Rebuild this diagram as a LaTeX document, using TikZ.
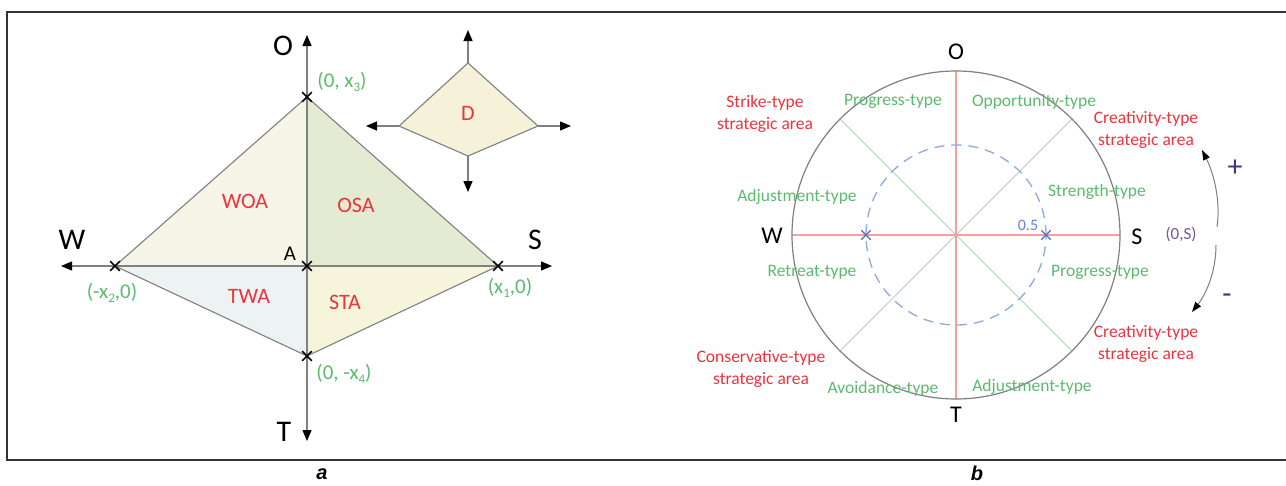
\documentclass[tikz,border=0pt]{standalone}
\usepackage{fontspec}
\setmainfont{Carlito}
\newfontfamily\capfont{Liberation Sans}
\usetikzlibrary{arrows.meta,shapes.misc}
\definecolor{redtxt}{RGB}{236,52,62}
\definecolor{greentxt}{RGB}{92,186,112}
\definecolor{greenline}{RGB}{172,216,172}
\definecolor{redline}{RGB}{245,160,160}
\definecolor{dashblue}{RGB}{140,170,222}
\definecolor{crossblue}{RGB}{80,110,190}
\definecolor{halfblue}{RGB}{100,135,205}
\definecolor{signpurple}{RGB}{70,50,130}
\definecolor{edgegray}{RGB}{128,128,128}
\definecolor{fillwoa}{RGB}{247,244,232}
\definecolor{fillosa}{RGB}{227,235,210}
\definecolor{filltwa}{RGB}{237,243,242}
\definecolor{fillsta}{RGB}{247,244,220}
\definecolor{filld}{RGB}{245,242,217}
\newcommand\subidx[1]{\raisebox{-0.35ex}{\fontsize{13}{13}\selectfont #1}}
\tikzset{
  tip/.style={-{Triangle[width=9pt,length=11pt,color=black]}},
  axisline/.style={draw=edgegray,line width=1.3pt},
  bigaxis/.style={font=\fontsize{30}{32}\selectfont,inner sep=0pt},
  midaxis/.style={font=\fontsize{24}{26}\selectfont,inner sep=0pt},
  area/.style={text=redtxt,font=\fontsize{22}{24}\selectfont,inner sep=0pt},
  coord/.style={text=greentxt,font=\fontsize{21}{23}\selectfont,inner sep=0pt},
  vtx/.style={cross out,draw=black,line width=1.7pt,minimum size=8pt,inner sep=0pt},
  bcross/.style={cross out,draw=crossblue,line width=1.3pt,minimum size=8pt,inner sep=0pt},
  kind/.style={text=greentxt,font=\fontsize{17.5}{19}\selectfont,inner sep=0pt},
  zone/.style={text=redtxt,font=\fontsize{17.5}{22}\selectfont,align=center,inner sep=0pt},
  panel/.style={font=\capfont\bfseries\itshape\fontsize{20}{22}\selectfont,inner sep=0pt},
  polyedge/.style={draw=edgegray,line width=1.1pt}
}
\begin{document}
\begin{tikzpicture}[x=1pt,y=-1pt]
\useasboundingbox[fill=white] (0,0) rectangle (1286,485);
% outer frame
\draw[line width=1.2pt,draw=black!80] (1286,12) -- (7,12) -- (7,460) -- (1286,460);

% ---------- panel a ----------
\coordinate (P3) at (307,97);
\coordinate (P2) at (115,266);
\coordinate (P0) at (307,266);
\coordinate (P1) at (498,266);
\coordinate (P4) at (307,356);
\fill[fillwoa] (P2) -- (P3) -- (P0) -- cycle;
\fill[fillosa] (P3) -- (P1) -- (P0) -- cycle;
\fill[filltwa] (P2) -- (P0) -- (P4) -- cycle;
\fill[fillsta] (P0) -- (P1) -- (P4) -- cycle;
\draw[polyedge] (P2) -- (P3) -- (P1) -- (P4) -- cycle;

\coordinate (Otip) at (307,35);
\coordinate (Ttip) at (307,441);
\coordinate (Wtip) at (61,266);
\coordinate (Stip) at (552,266);
\draw[axisline,tip] (P0) -- (Otip);
\draw[axisline,tip] (P0) -- (Ttip);
\draw[axisline,tip] (P0) -- (Wtip);
\draw[axisline,tip] (P0) -- (Stip);

\node[vtx] (x3) at (P3) {};
\node[vtx] (x2) at (P2) {};
\node[vtx] (A) at (P0) {};
\node[vtx] (x1) at (P1) {};
\node[vtx] (x4) at (P4) {};

\node[bigaxis] (lO) at (283,46) {O};
\node[bigaxis] (lT) at (284,432) {T};
\node[bigaxis] (lW) at (72,240) {W};
\node[bigaxis] (lS) at (535,240) {S};
\node[inner sep=0pt,font=\fontsize{21}{23}\selectfont] (lA) at (290,254) {A};

\node[coord] (c3) at (342,82) {(0, x\subidx{3})};
\node[coord] (c2) at (112,293) {(-x\subidx{2},0)};
\node[coord] (c1) at (510,288) {(x\subidx{1},0)};
\node[coord] (c4) at (344,374) {(0, -x\subidx{4})};

\node[area] (woa) at (245,201) {WOA};
\node[area] (osa) at (356,205) {OSA};
\node[area] (twa) at (249,296) {TWA};
\node[area] (sta) at (345,302) {STA};

% diamond D
\coordinate (Dt) at (468,63);
\coordinate (Dl) at (399,126);
\coordinate (Dr) at (538,126);
\coordinate (Db) at (468,156);
\draw[polyedge,fill=filld] (Dt) -- (Dr) -- (Db) -- (Dl) -- cycle;
\node[area] (D) at (468,113) {D};
\coordinate (Dtt) at (468,30);
\coordinate (Dll) at (366,126);
\coordinate (Drr) at (571,126);
\coordinate (Dbb) at (468,192);
\draw[axisline,tip] (Dt) -- (Dtt);
\draw[axisline,tip] (Dl) -- (Dll);
\draw[axisline,tip] (Dr) -- (Drr);
\draw[axisline,tip] (Db) -- (Dbb);

\node[panel] (pa) at (322,474) {a};

% ---------- panel b ----------
\coordinate (C) at (956,235);
\coordinate (Cw) at (792,235);
\coordinate (Ce) at (1120,235);
\coordinate (Cn) at (956,71);
\coordinate (Cs) at (956,399);
\draw[greenline,line width=1pt] (C) -- ++(45:164pt);
\draw[greenline,line width=1pt] (C) -- ++(135:164pt);
\draw[greenline,line width=1pt] (C) -- ++(225:164pt);
\draw[greenline,line width=1pt] (C) -- ++(315:164pt);
\draw[redline,line width=1.5pt] (Cw) -- (Ce);
\draw[redline,line width=1.5pt] (Cn) -- (Cs);
\draw[dashblue,line width=1.3pt,dash pattern=on 10pt off 7pt] (C) circle[radius=90pt];
\draw[edgegray,line width=1.2pt] (C) circle[radius=164pt];
\node[bcross] (hw) at (866,235) {};
\node[bcross] (he) at (1046,235) {};
\node[text=halfblue,font=\fontsize{16}{18}\selectfont,inner sep=0pt] (half) at (1028,225) {0.5};

\node[midaxis] (rO) at (956,52) {O};
\node[midaxis] (rW) at (772,236) {W};
\node[midaxis] (rS) at (1137,237) {S};
\node[midaxis] (rT) at (956,415) {T};

\node[kind] (k1) at (893,101) {Progress-type};
\node[kind] (k2) at (1034,102) {Opportunity-type};
\node[kind] (k3) at (797,197) {Adjustment-type};
\node[kind] (k4) at (1097,192) {Strength-type};
\node[kind] (k5) at (812,272) {Retreat-type};
\node[kind] (k6) at (1100,272) {Progress-type};
\node[kind] (k7) at (883,389) {Avoidance-type};
\node[kind] (k8) at (1032,387) {Adjustment-type};

\node[zone] (z1) at (765,114) {Strike-type\\strategic area};
\node[zone] (z2) at (1146,130) {Creativity-type\\strategic area};
\node[zone] (z3) at (761,369) {Conservative-type\\strategic area};
\node[zone] (z4) at (1146,344) {Creativity-type\\strategic area};

\node[text=signpurple!80,font=\fontsize{17}{19}\selectfont,inner sep=0pt] (os) at (1181,234) {(0,S)};
\node[text=signpurple,font=\fontsize{30}{30}\selectfont,inner sep=0pt] (plus) at (1235,168) {+};
\node[text=signpurple,font=\fontsize{30}{30}\selectfont,inner sep=0pt] (minus) at (1227,299) {-};

\coordinate (u0) at (1217,227);
\coordinate (u1) at (1202,150);
\coordinate (l0) at (1216,245);
\coordinate (l1) at (1192,312);
\draw[edgegray,line width=1pt,-{Triangle[width=7pt,length=10pt,color=black]}] (u0) .. controls (1221,199) and (1213,172) .. (u1);
\draw[edgegray,line width=1pt,-{Triangle[width=7pt,length=10pt,color=black]}] (l0) .. controls (1216,272) and (1206,294) .. (l1);

\node[panel] (pb) at (977,473) {b};
\end{tikzpicture}
\end{document}
